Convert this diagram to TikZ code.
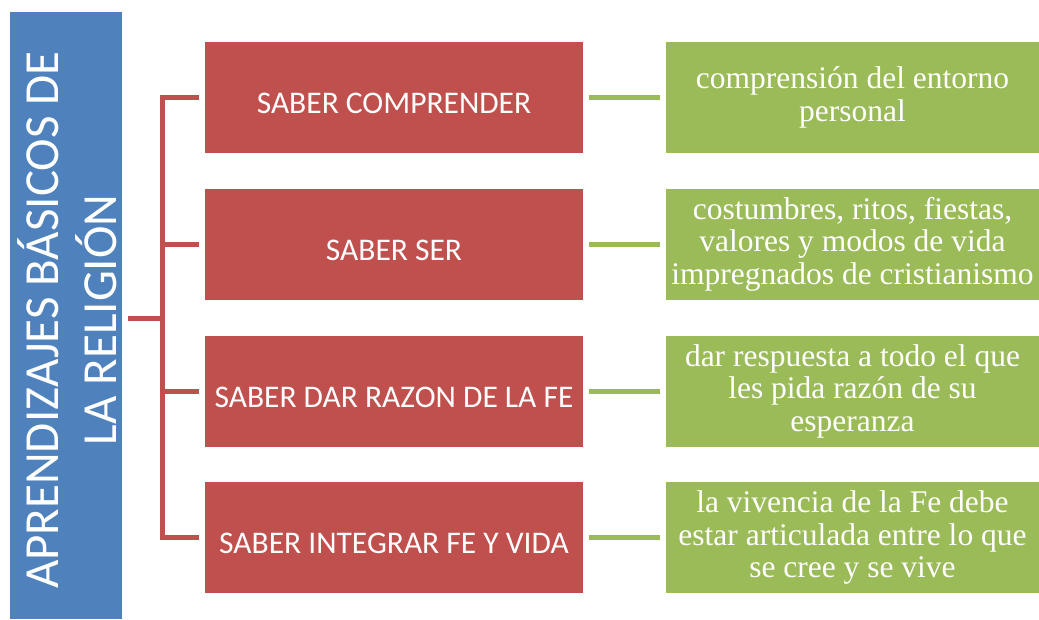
\documentclass[tikz,border=0pt]{standalone}
\usepackage{fontspec}
\newfontfamily\carlito{Carlito}
\newfontfamily\libserif{Liberation Serif}
\definecolor{oblue}{HTML}{4F81BD}
\definecolor{ored}{HTML}{C0504D}
\definecolor{ogreen}{HTML}{9BBB59}
\tikzset{
  redbox/.style={fill=ored, draw=none, minimum width=378pt, minimum height=111pt, inner sep=0pt, text=white, text height=32pt, text depth=0pt, font=\carlito\fontsize{31.5}{36}\selectfont},
  greenbox/.style={fill=ogreen, draw=none, minimum width=373pt, minimum height=111pt, inner sep=0pt, text=white, align=center, font=\libserif\fontsize{31.5}{32.5}\selectfont},
  redline/.style={draw=ored, line width=5pt},
  greenline/.style={draw=ogreen, line width=5pt},
}
\begin{document}
\begin{tikzpicture}[x=1pt,y=-1pt]
\useasboundingbox (0,0) rectangle (1039,619);
\node[fill=oblue, minimum width=112pt, minimum height=607pt, inner sep=0pt] (blue) at (66,315.5) {};
\node[rotate=90, align=center, text=white, font=\carlito\fontsize{49}{58}\selectfont] (bluetext) at (67,320) {APRENDIZAJES BÁSICOS DE\\LA RELIGIÓN};
\node[redbox] (r1) at (394,97.5) {SABER COMPRENDER};
\node[redbox] (r2) at (394,244) {SABER SER};
\node[redbox] (r3) at (394,391) {SABER DAR RAZON DE LA FE};
\node[redbox] (r4) at (394,537.5) {SABER INTEGRAR FE Y VIDA};
\node[greenbox] (g1) at (852.5,97.5) {comprensión del entorno\\personal};
\node[greenbox] (g2) at (852.5,244) {costumbres, ritos, fiestas,\\valores y modos de vida\\impregnados de cristianismo};
\node[greenbox] (g3) at (852.5,391) {dar respuesta a todo el que\\les pida razón de su\\esperanza};
\node[greenbox] (g4) at (852.5,537.5) {la vivencia de la Fe debe\\estar articulada entre lo que\\se cree y se vive};
\coordinate (trunk) at (162,318);
\coordinate (start) at (128,318);
\draw[redline] (start) -- (trunk);
\draw[redline] ([xshift=-6pt]r1.west) -| (trunk) |- ([xshift=-6pt]r4.west);
\draw[redline] (trunk) |- ([xshift=-6pt]r2.west);
\draw[redline] (trunk) |- ([xshift=-6pt]r3.west);
\foreach \i in {1,2,3,4} {
  \draw[greenline] ([xshift=6pt]r\i.east) -- ([xshift=-6pt]g\i.west);
}
\end{tikzpicture}
\end{document}
